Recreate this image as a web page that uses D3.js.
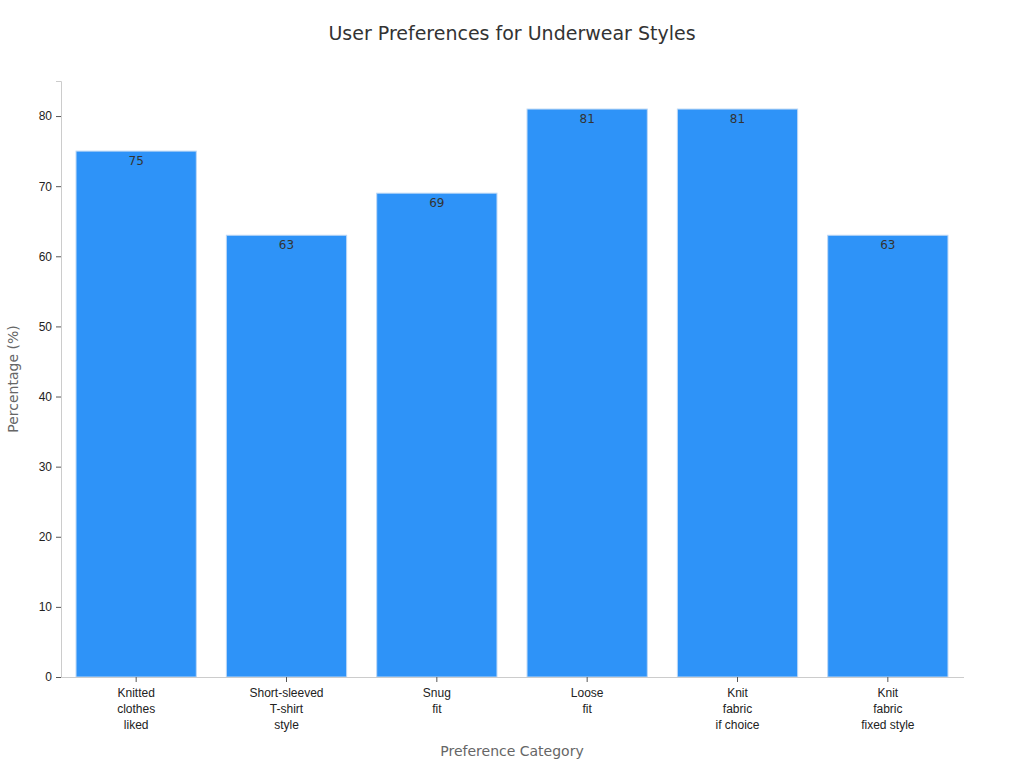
<!DOCTYPE html>
<html><head><meta charset="utf-8">
<script src="https://cdn.jsdelivr.net/npm/d3@7"></script>
<style>body{margin:0;background:#fff;font-family:"DejaVu Sans",sans-serif}</style>
</head><body>
<svg id="chart" width="1024" height="768"></svg>
<script>
const categories = [["Knitted","clothes","liked"],["Short-sleeved","T-shirt","style"],["Snug","fit"],["Loose","fit"],["Knit","fabric","if choice"],["Knit","fabric","fixed style"]]
const values = [75, 63, 69, 81, 81, 63]
const yTicks = [0,10,20,30,40,50,60,70,80]

const svg = d3.select('#chart'),
  m = {l:61, r:61, t:81, b:91},
  w = 1024 - m.l - m.r, h = 768 - m.t - m.b
const g = svg.append('g').attr('transform', `translate(${m.l},${m.t})`)

const x = d3.scaleBand().domain(d3.range(values.length)).range([0,w]).paddingInner(0.2).paddingOuter(0.1)
const y = d3.scaleLinear().domain([0,85]).range([h,0])

svg.append('text').attr('x',512).attr('y',40).attr('text-anchor','middle')
  .attr('font-size',19).attr('fill','#333').text('User Preferences for Underwear Styles')

g.selectAll('rect').data(values).join('rect')
  .attr('x',(d,i)=>x(i)).attr('width',x.bandwidth())
  .attr('y',d=>y(d)).attr('height',d=>h-y(d))
  .attr('fill','#2e93f8').attr('stroke','#bcd7f5').attr('stroke-width',1)

g.selectAll('.lbl').data(values).join('text').attr('class','lbl')
  .attr('x',(d,i)=>x(i)+x.bandwidth()/2).attr('y',d=>y(d)+14)
  .attr('text-anchor','middle').attr('font-size',12).attr('fill','#333').text(d=>d)

const ya = g.append('g').call(d3.axisLeft(y).tickValues(yTicks).tickSize(5).tickPadding(4))
ya.select('.domain').attr('stroke','#ccc')
ya.selectAll('.tick line').attr('stroke','#555')
ya.selectAll('text').attr('font-size',12).attr('fill','#222')

const xa = g.append('g').attr('transform',`translate(0,${h})`)
  .call(d3.axisBottom(x).tickSize(5).tickFormat(''))
xa.select('.domain').attr('stroke','#ccc').attr('d',`M0,0.5H${w+1}`)
xa.selectAll('.tick line').attr('stroke','#555')
xa.selectAll('.tick').append('text').attr('fill','#222').attr('font-size',12)
  .attr('text-anchor','middle')
  .each(function(d){
    d3.select(this).selectAll('tspan').data(categories[d]).join('tspan')
      .attr('x',0).attr('y',(t,j)=>20+j*16).text(t=>t)
  })

svg.append('text').attr('x',512).attr('y',756).attr('text-anchor','middle')
  .attr('font-size',14).attr('fill','#666').text('Preference Category')
svg.append('text').attr('transform','translate(18,379) rotate(-90)').attr('text-anchor','middle')
  .attr('font-size',14).attr('fill','#666').text('Percentage (%)')
</script>
</body></html>
